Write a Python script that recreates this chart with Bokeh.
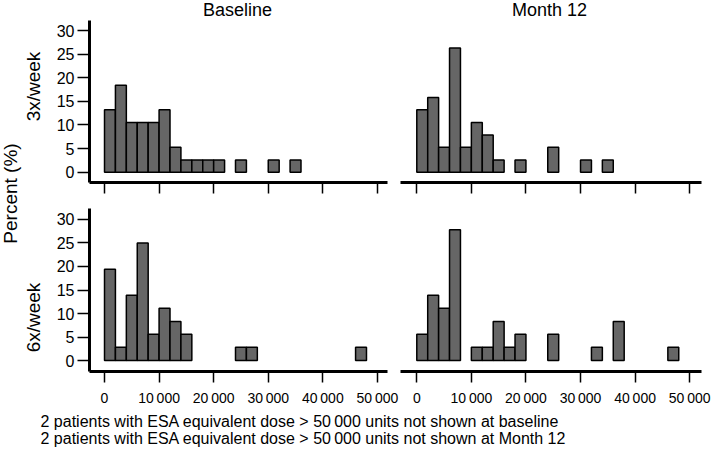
from math import pi
from bokeh.plotting import figure
from bokeh.models import Range1d, Label, FixedTicker, ColumnDataSource
from bokeh.layouts import row, column
from bokeh.embed import file_html
from bokeh.resources import INLINE

# ---------------- data ----------------
FONT = "Liberation Sans"
BIN_WIDTH = 2000

col_titles = ["Baseline", "Month 12"]
row_titles = ["3x/week", "6x/week"]
y_title = "Percent (%)"

x_ticks = [0, 10000, 20000, 30000, 40000, 50000]
x_tick_labels = ["0", "10\u2009000", "20\u2009000", "30\u2009000", "40\u2009000", "50\u2009000"]
y_ticks = [0, 5, 10, 15, 20, 25, 30]

footnotes = [
    "2 patients with ESA equivalent dose > 50\u2009000 units not shown at baseline",
    "2 patients with ESA equivalent dose > 50\u2009000 units not shown at Month 12",
]

# 3x/week, baseline
tw_base_start = [0, 2000, 4000, 6000, 8000, 10000, 12000, 14000, 16000, 18000, 20000, 24000, 30000, 34000]
tw_base_pct = [13.2, 18.4, 10.5, 10.5, 10.5, 13.2, 5.3, 2.6, 2.6, 2.6, 2.6, 2.6, 2.6, 2.6]
# 3x/week, month 12
tw_m12_start = [0, 2000, 4000, 6000, 8000, 10000, 12000, 14000, 18000, 24000, 30000, 34000]
tw_m12_pct = [13.2, 15.8, 5.3, 26.3, 5.3, 10.5, 7.9, 2.6, 2.6, 5.3, 2.6, 2.6]
# 6x/week, baseline
sw_base_start = [0, 2000, 4000, 6000, 8000, 10000, 12000, 14000, 24000, 26000, 46000]
sw_base_pct = [19.4, 2.8, 13.9, 25.0, 5.6, 11.1, 8.3, 5.6, 2.8, 2.8, 2.8]
# 6x/week, month 12
sw_m12_start = [0, 2000, 4000, 6000, 10000, 12000, 14000, 16000, 18000, 24000, 32000, 36000, 46000]
sw_m12_pct = [5.6, 13.9, 11.1, 27.8, 2.8, 2.8, 8.3, 2.8, 5.6, 5.6, 2.8, 8.3, 2.8]

# ---------------- styling / layout ----------------
XR_LEFT = (-2750, 51850)
XR_RIGHT = (-2985, 52165)
YR_TOP = (-2.18, 32.12)
YR_BOT = (-2.34, 32.34)
BAR_FILL = "#666666"


def blank(w, h):
    p = figure(width=w, height=h, frame_width=w, frame_height=h,
               x_range=Range1d(0, w), y_range=Range1d(0, h),
               x_axis_location=None, y_axis_location=None,
               output_backend="svg", toolbar_location=None,
               min_border=0, min_border_left=0, min_border_right=0,
               min_border_top=0, min_border_bottom=0)
    p.outline_line_color = None
    p.xgrid.visible = False
    p.ygrid.visible = False
    return p


def panel(starts, pct, left, bottom, xr, yr):
    p = figure(frame_width=298 if left else 301,
               frame_height=163 if bottom else 162,
               x_range=Range1d(*xr), y_range=Range1d(*yr),
               y_axis_location="left" if left else None,
               output_backend="svg", toolbar_location=None,
               min_border_left=43 if left else 0,
               min_border_right=13 if left else 10,
               min_border_top=8 if bottom else 2,
               min_border_bottom=36 if bottom else 18)
    p.outline_line_color = None
    p.xgrid.visible = False
    p.ygrid.visible = False
    src = ColumnDataSource(dict(left=starts,
                                right=[s + BIN_WIDTH for s in starts],
                                top=pct))
    p.quad(left="left", right="right", bottom=0, top="top", source=src,
           fill_color=BAR_FILL, line_color="black", line_width=1.5)

    ax = p.xaxis[0]
    ax.ticker = FixedTicker(ticks=x_ticks)
    ax.minor_tick_line_color = None
    ax.axis_line_width = 3
    ax.axis_line_color = "black"
    ax.major_tick_line_width = 1.5
    ax.major_tick_line_color = "black"
    ax.major_tick_out = 11
    ax.major_tick_in = 0
    ax.major_label_text_font = FONT
    ax.major_label_text_color = "black"
    if bottom:
        ax.major_label_overrides = {t: l for t, l in zip(x_ticks, x_tick_labels)}
        ax.major_label_text_font_size = "14px"
        ax.major_label_standoff = 7
    else:
        ax.major_label_overrides = {t: "" for t in x_ticks}
        ax.major_label_text_font_size = "0px"
        ax.major_label_standoff = 0

    if left:
        ay = p.yaxis[0]
        ay.ticker = FixedTicker(ticks=y_ticks)
        ay.minor_tick_line_color = None
        ay.axis_line_width = 3
        ay.axis_line_color = "black"
        ay.major_tick_line_width = 1.5
        ay.major_tick_line_color = "black"
        ay.major_tick_out = 12
        ay.major_tick_in = 0
        ay.major_label_standoff = 3
        ay.major_label_text_font = FONT
        ay.major_label_text_font_size = "16px"
        ay.major_label_text_color = "black"
    return p


p_tl = panel(tw_base_start, tw_base_pct, True, False, XR_LEFT, YR_TOP)
p_tr = panel(tw_m12_start, tw_m12_pct, False, False, XR_RIGHT, YR_TOP)
p_bl = panel(sw_base_start, sw_base_pct, True, True, XR_LEFT, YR_BOT)
p_br = panel(sw_m12_start, sw_m12_pct, False, True, XR_RIGHT, YR_BOT)

# header with column titles
header = blank(712, 18)
for t, xc in zip(col_titles, [237, 549]):
    header.add_layout(Label(x=xc, y=9, text=t, text_align="center",
                            text_baseline="middle", text_font=FONT,
                            text_font_size="18px", text_color="black"))

# left label strip (spans both panel rows: 182 + 207 px)
strip = blank(46, 389)
strip.add_layout(Label(x=10, y=214, text=y_title, angle=pi / 2,
                       text_align="center", text_baseline="middle",
                       text_font=FONT, text_font_size="19px", text_color="black"))
for t, yc in zip(row_titles, [321, 90]):
    strip.add_layout(Label(x=33, y=yc, text=t, angle=pi / 2,
                           text_align="center", text_baseline="middle",
                           text_font=FONT, text_font_size="19px", text_color="black"))

# footnotes
footer = blank(712, 42)
for t, yc in zip(footnotes, [29, 12]):
    footer.add_layout(Label(x=40, y=yc, text=t, text_align="left",
                            text_baseline="middle", text_font=FONT,
                            text_font_size="16px", text_color="black"))

layout = column(header,
                row(strip, column(row(p_tl, p_tr), row(p_bl, p_br))),
                footer)

open("out.html", "w").write(file_html(layout, INLINE))
